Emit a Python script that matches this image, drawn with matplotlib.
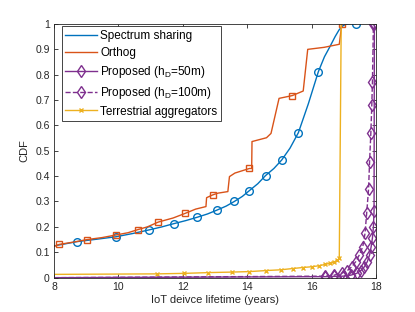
import matplotlib
matplotlib.use("Agg")
import matplotlib.pyplot as plt
from matplotlib.lines import Line2D

# DATA
# Spectrum sharing
ss_x = [8.0, 8.72, 9.3, 9.92, 10.45, 10.95, 11.35, 11.73, 12.1, 12.45, 12.77, 13.06,
        13.35, 13.6, 13.85, 14.07, 14.33, 14.57, 14.83, 15.07, 15.33, 15.59, 15.9,
        16.21, 16.4, 16.55, 16.73, 16.85, 16.95, 17.05, 17.15, 17.37]
ss_y = [0.125, 0.142, 0.151, 0.161, 0.174, 0.188, 0.2, 0.213, 0.225, 0.238, 0.251, 0.266,
        0.282, 0.300, 0.32, 0.343, 0.37, 0.402, 0.43, 0.463, 0.51, 0.571, 0.685,
        0.811, 0.87, 0.905, 0.949, 0.975, 0.99, 0.997, 1.0, 1.0]
ss_mk = [1, 3, 5, 7, 9, 11, 13, 15, 17, 19, 21, 23, 31]

# Orthog
or_x = [8.0, 8.16, 8.6, 9.03, 9.5, 9.92, 10.3, 10.6, 10.9, 11.24, 11.7, 12.07, 12.4,
        12.72, 12.74, 12.93, 13.1, 13.4, 13.45, 13.62, 14.07, 14.14, 14.15, 14.6,
        14.74, 14.99, 15.4, 15.74, 15.88, 16.39, 16.86, 16.94]
or_y = [0.123, 0.131, 0.14, 0.15, 0.158, 0.168, 0.177, 0.189, 0.2, 0.219, 0.235, 0.253,
        0.27, 0.28, 0.315, 0.326, 0.333, 0.339, 0.398, 0.412, 0.43, 0.43, 0.536, 0.551,
        0.568, 0.706, 0.717, 0.735, 0.899, 0.907, 0.919, 1.0]
or_mk = [1, 3, 5, 7, 9, 11, 15, 20, 26, 31]

# Proposed (hD=50m)
p50_x = [8.0, 16.42, 16.7, 16.98, 17.22, 17.4, 17.53, 17.64, 17.73, 17.8, 17.85,
         17.89, 17.92, 17.94, 17.95]
p50_y = [0.0, 0.004, 0.005, 0.006, 0.01, 0.017, 0.028, 0.043, 0.063, 0.089, 0.122,
         0.157, 0.2, 0.264, 1.0]

# Proposed (hD=100m)
p100_x = [8.0, 16.42, 16.7, 16.93, 17.11, 17.25, 17.37, 17.48, 17.59, 17.66, 17.71,
          17.77, 17.8, 17.84, 17.87, 17.89, 17.92]
p100_y = [0.0, 0.006, 0.01, 0.017, 0.028, 0.043, 0.063, 0.089, 0.122, 0.175, 0.253,
          0.35, 0.455, 0.568, 0.68, 0.772, 1.0]

# Terrestrial aggregators
ta_x = [8.0, 11.21, 12.05, 12.79, 13.52, 14.07, 14.58, 15.04, 15.41, 15.72, 16.0,
        16.23, 16.41, 16.57, 16.7, 16.8, 16.86, 16.92]
ta_y = [0.013, 0.015, 0.017, 0.02, 0.022, 0.024, 0.028, 0.031, 0.036, 0.04, 0.043,
        0.047, 0.052, 0.057, 0.062, 0.068, 0.076, 1.0]

c_blue = '#0072BD'
c_orange = '#D95319'
c_yellow = '#EDB120'
c_purple = '#7E2F8E'
dark = '#262626'

plt.rcParams['font.family'] = ['Liberation Sans', 'DejaVu Sans']

fig = plt.figure(figsize=(4.15, 3.12), dpi=100)
ax = fig.add_axes([0.130, 0.110, 0.776, 0.814])

lw = 1.0
ax.plot(ss_x, ss_y, color=c_blue, lw=lw)
ax.plot([ss_x[i] for i in ss_mk], [ss_y[i] for i in ss_mk], 'o', ls='none',
        mfc='none', mec=c_blue, ms=5.5, mew=1.0)

ax.plot(or_x, or_y, color=c_orange, lw=lw)
ax.plot([or_x[i] for i in or_mk], [or_y[i] for i in or_mk], 's', ls='none',
        mfc='none', mec=c_orange, ms=4, mew=1.0)

ax.plot(ta_x, ta_y, color=c_yellow, lw=lw, marker='x', ms=3.5, mew=1.0,
        markevery=list(range(1, len(ta_x) - 1)))

ax.plot(p100_x, p100_y, color=c_purple, lw=lw, ls='--', marker='d', mfc='none',
        ms=6, mew=1.0, markevery=list(range(1, len(p100_x))))
ax.plot(p50_x, p50_y, color=c_purple, lw=lw, marker='d', mfc='none',
        ms=6, mew=1.0, markevery=list(range(1, len(p50_x))))

ax.set_xlim(8, 18)
ax.set_ylim(0, 1)
ax.set_xticks([8, 10, 12, 14, 16, 18])
ax.set_yticks([i / 10 for i in range(11)])
ax.set_yticklabels(['0', '0.1', '0.2', '0.3', '0.4', '0.5', '0.6', '0.7', '0.8', '0.9', '1'])

for s in ax.spines.values():
    s.set_color(dark)
    s.set_linewidth(0.6)
ax.tick_params(direction='in', length=3, width=0.6, top=True, right=True,
               colors=dark, labelsize=7.5, pad=3)

ax.set_xlabel('IoT deivce lifetime (years)', fontsize=8, color=dark, labelpad=2)
ax.set_ylabel('CDF', fontsize=8, color=dark, labelpad=4)

# legend: lines only for the first two, markers for the rest
handles = [
    Line2D([], [], color=c_blue, lw=lw),
    Line2D([], [], color=c_orange, lw=lw),
    Line2D([], [], color=c_purple, lw=lw, marker='d', mfc='none', ms=6),
    Line2D([], [], color=c_purple, lw=lw, ls='--', marker='d', mfc='none', ms=6),
    Line2D([], [], color=c_yellow, lw=lw, marker='x', ms=3.5),
]
labels = ['Spectrum sharing', 'Orthog', 'Proposed (h$_\\mathregular{D}$=50m)',
          'Proposed (h$_\\mathregular{D}$=100m)', 'Terrestrial aggregators']
leg = ax.legend(handles, labels, loc='upper left', bbox_to_anchor=(0.024, 0.99),
                fontsize=8.5, fancybox=False, edgecolor=dark, framealpha=1,
                handlelength=2.7, handletextpad=0.25, borderpad=0.3,
                labelspacing=0.42, borderaxespad=0.0)
leg.get_frame().set_linewidth(0.6)

fig.savefig('out.png', dpi=100)
